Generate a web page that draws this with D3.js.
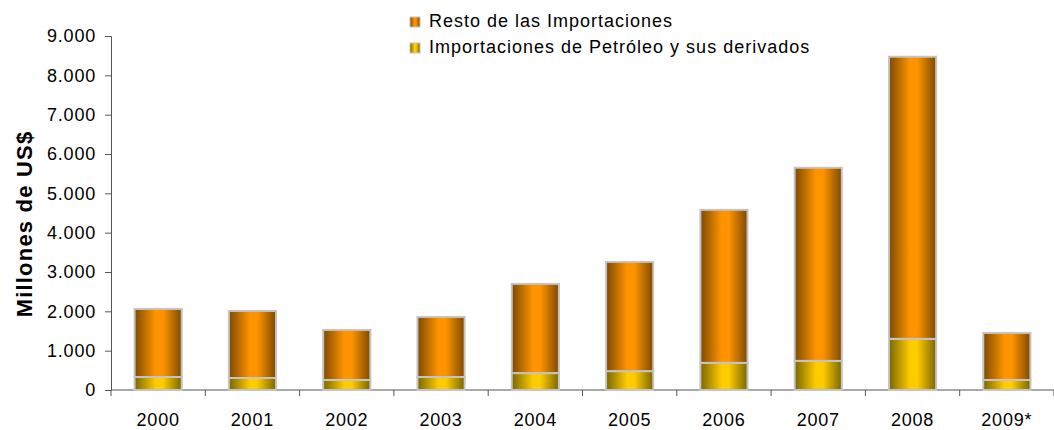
<!DOCTYPE html>
<html>
<head>
<meta charset="utf-8">
<script src="https://cdn.jsdelivr.net/npm/d3@7"></script>
<style>
  body { margin: 0; background: #fff; }
  text { font-family: "Liberation Sans", Arial, sans-serif; }
</style>
</head>
<body>
<div id="chart"></div>
<script>
const width = 1054;
const height = 430;

// Data
const years = ["2000", "2001", "2002", "2003", "2004", "2005", "2006", "2007", "2008", "2009*"];
const petroleo = [330, 305, 255, 330, 430, 480, 690, 740, 1300, 255];
const resto = [1730, 1705, 1272, 1527, 2267, 2776, 3890, 4910, 7173, 1195];
const yTicks = [0, 1000, 2000, 3000, 4000, 5000, 6000, 7000, 8000, 9000];
const seriesNames = ["Resto de las Importaciones", "Importaciones de Petróleo y sus derivados"];

const margin = { top: 36, right: 0, bottom: 40, left: 111 };

const svg = d3.select("#chart")
    .append("svg")
    .attr("width", width)
    .attr("height", height);

// gradients (cylinder look)
const defs = svg.append("defs");
function cylinder(id, dark, light) {
    const g = defs.append("linearGradient").attr("id", id)
        .attr("x1", "0%").attr("x2", "100%").attr("y1", "0%").attr("y2", "0%");
    g.append("stop").attr("offset", "0%").attr("stop-color", dark);
    g.append("stop").attr("offset", "45%").attr("stop-color", light);
    g.append("stop").attr("offset", "60%").attr("stop-color", light);
    g.append("stop").attr("offset", "100%").attr("stop-color", dark);
}
cylinder("gOrange", "#7d4a00", "#ff9400");
cylinder("gYellow", "#7a6600", "#ffcc00");

const x = d3.scaleBand()
    .domain(years)
    .range([margin.left, width - margin.right])
    .paddingInner(0.5)
    .paddingOuter(0.25);

const y = d3.scaleLinear()
    .domain([0, 9000])
    .range([390, margin.top]);

const fmt = d => d3.format(",")(d).replace(/,/g, ".");

// y axis
const yAxis = svg.append("g")
    .attr("transform", `translate(${margin.left},0)`)
    .call(d3.axisLeft(y).tickValues(yTicks).tickSize(6).tickFormat(fmt));
yAxis.selectAll("text")
    .style("font-size", "18px")
    .style("letter-spacing", "0.8px")
    .attr("fill", "#000")
    .attr("x", -15);
yAxis.selectAll("line, path").attr("stroke", "#555");

// x axis with ticks at category boundaries
const xAxisG = svg.append("g").attr("transform", `translate(0,${y(0)})`);
xAxisG.append("line")
    .attr("x1", margin.left).attr("x2", width)
    .attr("stroke", "#555");
const step = x.step();
const bounds = d3.range(years.length + 1).map(i => margin.left + i * step);
xAxisG.selectAll(".tk").data(bounds).enter().append("line")
    .attr("x1", d => d).attr("x2", d => d)
    .attr("y1", 0).attr("y2", 6)
    .attr("stroke", "#555");
xAxisG.selectAll(".lbl").data(years).enter().append("text")
    .attr("x", d => x(d) + x.bandwidth() / 2)
    .attr("y", 36)
    .attr("text-anchor", "middle")
    .style("font-size", "18px")
    .style("letter-spacing", "0.8px")
    .text(d => d);

// bars
const bars = svg.append("g");
years.forEach((yr, i) => {
    const base = petroleo[i];
    const total = petroleo[i] + resto[i];
    bars.append("rect")
        .attr("x", x(yr))
        .attr("y", y(base))
        .attr("width", x.bandwidth())
        .attr("height", y(0) - y(base))
        .attr("fill", "url(#gYellow)")
        .attr("stroke", "#c4c4c4")
        .attr("stroke-width", 2);
    bars.append("rect")
        .attr("x", x(yr))
        .attr("y", y(total))
        .attr("width", x.bandwidth())
        .attr("height", y(base) - y(total))
        .attr("fill", "url(#gOrange)")
        .attr("stroke", "#c4c4c4")
        .attr("stroke-width", 2);
});

// y title
svg.append("text")
    .attr("transform", "translate(32,224) rotate(-90)")
    .attr("text-anchor", "middle")
    .style("font-size", "22px")
    .style("font-weight", "bold")
    .style("letter-spacing", "1.2px")
    .text("Millones de US$");

// legend
const legend = svg.append("g").attr("transform", "translate(410,0)");
const legFills = ["url(#gOrange)", "url(#gYellow)"];
seriesNames.forEach((name, i) => {
    const ly = 21 + i * 26;
    legend.append("rect")
        .attr("x", 0).attr("y", ly - 4)
        .attr("width", 10).attr("height", 10)
        .attr("fill", legFills[i])
        .attr("stroke", "#c4c4c4")
        .attr("stroke-width", 1);
    legend.append("text")
        .attr("x", 19).attr("y", ly + 6)
        .style("font-size", "18px")
        .style("letter-spacing", "1px")
        .text(name);
});
</script>
</body>
</html>
